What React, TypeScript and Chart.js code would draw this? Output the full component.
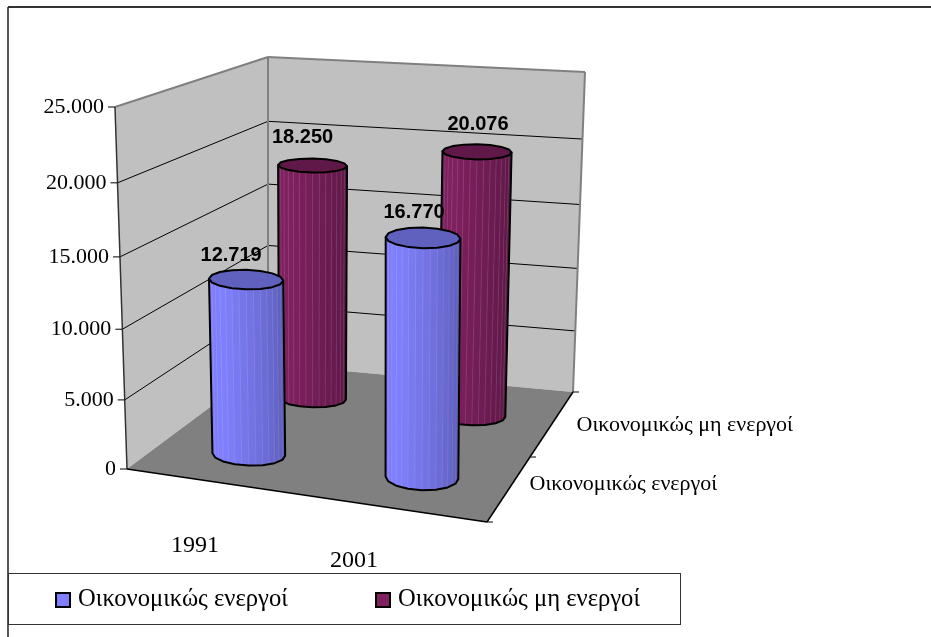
import React, { useEffect, useRef } from "react";
import { Chart, registerables, LinearScale } from "chart.js";

const years = ["1991", "2001"];
const seriesNames = ["Οικονομικώς ενεργοί", "Οικονομικώς μη ενεργοί"];
const activeValues = [12719, 16770];
const inactiveValues = [18250, 20076];
const valueTicks = [0, 5000, 10000, 15000, 20000, 25000];
const BLUE = "#8080FF";
const PURPLE = "#802060";

// Corners of the 3D box on the page: [x, y] by (width, depth, height)
const BOX = {
  A: [127, 469], B: [487, 522], C: [573, 392], D: [268, 364],
  E: [115, 107], F: [490, 135], G: [585, 72], H: [268, 57],
};
const SERIF = "'Liberation Serif', serif";
const SANS = "'Liberation Sans', sans-serif";
const CURVE = 0.06;
const LABEL_NUDGE = [
  [[-15, -24], [-9, -25]],
  [[-10, -28], [1, -27]],
];
const YEAR_NUDGE = [[-22, 63], [-43, 52]];
const DEPTH_NUDGE = [[21, -5], [25, 1]];

const lerp = (a: number, b: number, t: number) => a + (b - a) * t;
const lerp2 = (a: number[], b: number[], t: number) => [lerp(a[0], b[0], t), lerp(a[1], b[1], t)];

function project(u: number, v: number, h: number) {
  const bottom = lerp2(lerp2(BOX.A, BOX.B, u), lerp2(BOX.D, BOX.C, u), v);
  const top = lerp2(lerp2(BOX.E, BOX.F, u), lerp2(BOX.H, BOX.G, u), v);
  return lerp2(bottom, top, h);
}

class PerspectiveScale extends LinearScale {
  static id = "perspective";
  static defaults = LinearScale.defaults;
  getPixelForValue(value: number) {
    const t = (value - (this as any)._startValue) / (this as any)._valueRange;
    return this.getPixelForDecimal(t / (1 + CURVE * (1 - t)));
  }
  _computeLabelItems(area: any) {
    const items = (super._computeLabelItems as any)(area);
    const self = this as any;
    items.forEach((item: any, i: number) => {
      const value = self.ticks[i].value;
      const h = (self.bottom - self.getPixelForValue(value)) / (self.bottom - self.top);
      const shift = project(0, 0, h)[0] - BOX.E[0];
      item.options.translation[0] += shift;
    });
    return items;
  }
}

Chart.register(...registerables, PerspectiveScale);

function hexRgb(c: string) {
  return [1, 3, 5].map((i) => parseInt(c.slice(i, i + 2), 16));
}
function shade(c: string, f: number) {
  const [r, g, b] = hexRgb(c);
  return `rgb(${Math.round(r * f)},${Math.round(g * f)},${Math.round(b * f)})`;
}

function poly(ctx: CanvasRenderingContext2D, pts: number[][]) {
  ctx.beginPath();
  pts.forEach((p, i) => (i ? ctx.lineTo(p[0], p[1]) : ctx.moveTo(p[0], p[1])));
  ctx.closePath();
}
function seg(ctx: CanvasRenderingContext2D, a: number[], b: number[], color: string, w: number) {
  ctx.strokeStyle = color;
  ctx.lineWidth = w;
  ctx.beginPath();
  ctx.moveTo(a[0], a[1]);
  ctx.lineTo(b[0], b[1]);
  ctx.stroke();
}

function drawCylinder(ctx: CanvasRenderingContext2D, u: number, v: number, h: number, color: string) {
  const ru = 0.105;
  const depthDy = lerp(BOX.A[1] - BOX.D[1], BOX.B[1] - BOX.C[1], u);
  const depthFactor = lerp(1, 0.76, (v - 0.25) / 0.5);
  const rim = (hh: number) => {
    const c = project(u, v, hh);
    const r = project(u + ru, v, hh);
    const ry = 0.1 * depthDy * depthFactor * (1 - 0.25 * hh);
    return (a: number) => [
      c[0] + Math.cos(a) * (r[0] - c[0]),
      c[1] + Math.cos(a) * (r[1] - c[1]) * 0.25 + Math.sin(a) * ry,
    ];
  };
  const lo = rim(0);
  const hi = rim(h);
  const N = 16;
  const angle = (i: number) => Math.PI - (i * Math.PI) / N;
  for (let i = 0; i < N; i++) {
    const p = i / (N - 1);
    const f = p < 0.25 ? 0.96 + 0.16 * p : 1 - 0.3 * Math.pow((p - 0.25) / 0.75, 1.1);
    ctx.fillStyle = shade(color, f);
    poly(ctx, [hi(angle(i)), hi(angle(i + 1)), lo(angle(i + 1)), lo(angle(i))]);
    ctx.fill();
    ctx.strokeStyle = shade(color, f);
    ctx.lineWidth = 0.6;
    ctx.stroke();
    if (i > 0) seg(ctx, hi(angle(i)), lo(angle(i)), "rgba(255,255,255,0.1)", 1);
  }
  const body: number[][] = [];
  for (let i = 0; i <= N; i += 2) body.push(lo(angle(i)));
  body.push(hi(0), hi(Math.PI));
  ctx.strokeStyle = "#000";
  ctx.lineWidth = 2;
  ctx.lineJoin = "round";
  poly(ctx, body);
  ctx.stroke();
  const cap: number[][] = [];
  for (let i = 0; i < 2 * N; i += 2) cap.push(hi((i * Math.PI) / N));
  poly(ctx, cap);
  ctx.fillStyle = shade(color, 0.75);
  ctx.fill();
  ctx.stroke();
}

const boxPlugin = {
  id: "box3d",
  beforeDatasetsDraw(chart: any) {
    const { ctx, scales } = chart;
    const y = scales.y;
    const hOf = (val: number) => (y.bottom - y.getPixelForValue(val)) / (y.bottom - y.top);
    ctx.save();
    seg(ctx, [8, 7], [931, 7], "#333", 2);
    seg(ctx, [8, 7], [8, 637], "#222", 1.5);

    ctx.fillStyle = "#C0C0C0";
    poly(ctx, [BOX.A, BOX.E, BOX.H, BOX.D]);
    ctx.fill();
    poly(ctx, [BOX.D, BOX.H, BOX.G, BOX.C]);
    ctx.fill();
    ctx.fillStyle = "#808080";
    poly(ctx, [BOX.A, BOX.B, BOX.C, BOX.D]);
    ctx.fill();

    valueTicks.slice(1, -1).forEach((val) => {
      const h = hOf(val);
      seg(ctx, project(0, 0, h), project(0, 1, h), "#000", 1);
      seg(ctx, project(0, 1, h), project(1, 1, h), "#000", 1);
    });
    seg(ctx, BOX.E, BOX.H, "#808080", 2);
    seg(ctx, BOX.H, BOX.G, "#808080", 2);
    seg(ctx, BOX.H, BOX.D, "#808080", 2);
    seg(ctx, BOX.G, BOX.C, "#808080", 2);
    seg(ctx, BOX.E, BOX.A, "#333", 1.5);
    seg(ctx, BOX.A, BOX.B, "#000", 1.5);
    seg(ctx, BOX.B, BOX.C, "#000", 1.5);
    valueTicks.forEach((val) => {
      const p = project(0, 0, hOf(val));
      seg(ctx, [p[0] - 7, p[1]], p, "#000", 1);
    });
    [0, 0.5, 1].forEach((v) => {
      const p = project(1, v, 0);
      seg(ctx, p, [p[0] + 6, p[1]], "#000", 1);
    });
    ctx.restore();
  },
  beforeDatasetDraw(chart: any, args: any) {
    const { ctx, scales, chartArea } = chart;
    const ds = chart.data.datasets[args.index];
    const w = chartArea.right - chartArea.left;
    const v = (scales.depth.getPixelForValue(args.index) - chartArea.left) / w;
    ctx.save();
    ds.data.forEach((val: number, i: number) => {
      const u = (scales.x.getPixelForValue(i) - chartArea.left) / w;
      const h = (scales.y.bottom - scales.y.getPixelForValue(val)) / (scales.y.bottom - scales.y.top);
      drawCylinder(ctx, u, v, h, ds.backgroundColor);
    });
    ctx.restore();
    return false;
  },
  afterDatasetsDraw(chart: any) {
    const { ctx, scales, chartArea } = chart;
    const w = chartArea.right - chartArea.left;
    const fmt = (n: number) => String(n).replace(/\B(?=(\d{3})+$)/g, ".");
    ctx.save();
    ctx.textBaseline = "middle";
    ctx.textAlign = "center";
    ctx.fillStyle = "#000";
    ctx.font = `bold 20px ${SANS}`;
    chart.data.datasets.forEach((ds: any, d: number) => {
      const v = (scales.depth.getPixelForValue(d) - chartArea.left) / w;
      ds.data.forEach((val: number, i: number) => {
        const u = (scales.x.getPixelForValue(i) - chartArea.left) / w;
        const h = (scales.y.bottom - scales.y.getPixelForValue(val)) / (scales.y.bottom - scales.y.top);
        const p = project(u, v, h);
        const n = LABEL_NUDGE[d][i];
        ctx.fillText(fmt(val), p[0] + n[0], p[1] + n[1]);
      });
    });

    // category labels below the floor's front edge
    ctx.font = `24px ${SERIF}`;
    scales.x.getLabels().forEach((label: string, i: number) => {
      const u = (scales.x.getPixelForValue(i) - chartArea.left) / w;
      const p = project(u, 0, 0);
      ctx.fillText(label, p[0] + YEAR_NUDGE[i][0], p[1] + YEAR_NUDGE[i][1]);
    });
    // depth labels right of the floor's side edge
    ctx.textAlign = "left";
    ctx.font = `22px ${SERIF}`;
    scales.depth.getLabels().forEach((label: string, i: number) => {
      const v = (scales.depth.getPixelForValue(i) - chartArea.left) / w;
      const p = project(1, v, 0);
      ctx.fillText(label, p[0] + DEPTH_NUDGE[i][0], p[1] + DEPTH_NUDGE[i][1]);
    });

    // legend
    ctx.fillStyle = "#fff";
    ctx.fillRect(8, 573, 672, 52);
    ctx.strokeStyle = "#333";
    ctx.lineWidth = 1;
    ctx.strokeRect(8.5, 573.5, 672, 51);
    ctx.font = `24.6px ${SERIF}`;
    const slots = [56, 376];
    chart.data.datasets.forEach((ds: any, d: number) => {
      ctx.fillStyle = ds.backgroundColor;
      ctx.strokeStyle = "#000";
      ctx.lineWidth = 2;
      ctx.fillRect(slots[d], 593, 14, 14);
      ctx.strokeRect(slots[d], 593, 14, 14);
      ctx.fillStyle = "#000";
      ctx.fillText(ds.label, slots[d] + 22, 600);
    });
    ctx.restore();
  },
};

export default function App() {
  const ref = useRef<HTMLCanvasElement>(null);
  useEffect(() => {
    const chart = new Chart(ref.current!, {
      type: "bar",
      data: {
        labels: years,
        datasets: [
          { label: seriesNames[0], data: activeValues, backgroundColor: BLUE, order: 0 },
          { label: seriesNames[1], data: inactiveValues, backgroundColor: PURPLE, order: 1 },
        ],
      },
      options: {
        animation: false,
        responsive: false,
        layout: { padding: { top: 107, bottom: 168, left: 0, right: 346 } },
        plugins: { legend: { display: false }, tooltip: { enabled: false }, title: { display: false } },
        scales: {
          x: { display: false, type: "category", offset: true },
          depth: { type: "category", axis: "x", display: false, labels: seriesNames, offset: true },
          y: {
            type: "perspective",
            min: 0,
            max: 25000,
            border: { display: false },
            grid: { display: false, drawTicks: false },
            afterFit: (s: any) => { s.width = 115; },
            ticks: {
              stepSize: 5000,
              color: "#000",
              padding: 11,
              font: { family: "Liberation Serif", size: 22 },
              callback: (val: any) => String(val).replace(/\B(?=(\d{3})+$)/g, "."),
            },
          },
        },
      } as any,
      plugins: [boxPlugin],
    } as any);
    return () => chart.destroy();
  }, []);
  return (
    <div style={{ position: "absolute", left: 0, top: 0, width: 931, height: 637, background: "#fff" }}>
      <canvas ref={ref} width={931} height={637} style={{ display: "block" }} />
    </div>
  );
}
